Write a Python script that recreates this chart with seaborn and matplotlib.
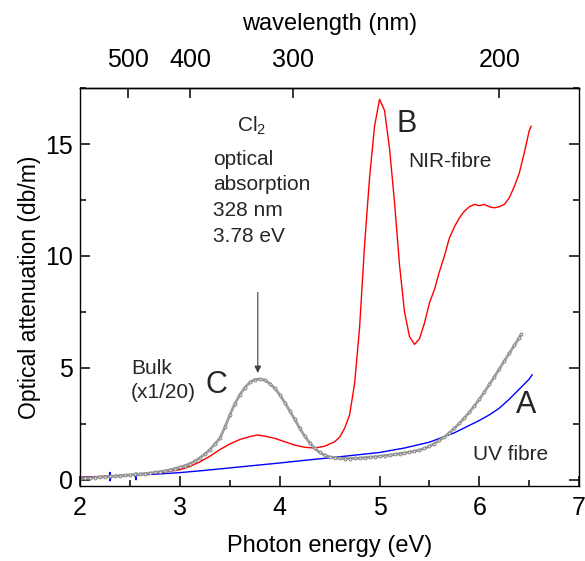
import matplotlib
matplotlib.use("Agg")
import matplotlib.pyplot as plt
from matplotlib.ticker import MultipleLocator, NullLocator
import seaborn as sns

# NIR-fibre (red) attenuation, db/m
nir_ev = [2.0, 2.2, 2.4, 2.6, 2.8, 3.0, 3.1, 3.2, 3.3, 3.4, 3.5, 3.6, 3.7, 3.78,
          3.85, 3.95, 4.05, 4.15, 4.25, 4.35, 4.45, 4.5, 4.55, 4.6, 4.65, 4.7,
          4.75, 4.8, 4.85, 4.9, 4.95, 5.0, 5.05, 5.1, 5.15, 5.2, 5.25, 5.3, 5.35,
          5.4, 5.45, 5.5, 5.55, 5.6, 5.65, 5.7, 5.75, 5.8, 5.85, 5.9, 5.95, 6.0,
          6.05, 6.1, 6.15, 6.2, 6.25, 6.3, 6.35, 6.4, 6.45, 6.5, 6.52]
nir_db = [0.12, 0.15, 0.2, 0.25, 0.32, 0.45, 0.6, 0.8, 1.05, 1.35, 1.6, 1.8, 1.93, 2.0,
          1.95, 1.85, 1.7, 1.55, 1.45, 1.42, 1.5, 1.6, 1.7, 1.9, 2.3, 2.9,
          4.3, 6.8, 10.5, 13.5, 15.8, 17.0, 16.5, 14.8, 12.4, 9.6, 7.5, 6.4, 6.05,
          6.3, 7.0, 7.9, 8.5, 9.3, 10.0, 10.8, 11.3, 11.7, 12.0, 12.2, 12.3, 12.25,
          12.3, 12.2, 12.15, 12.2, 12.3, 12.6, 13.1, 13.7, 14.6, 15.6, 15.8]

# UV fibre (blue)
uv_ev = [2.0, 2.29, 2.3, 2.3, 2.31, 2.5, 2.55, 2.56, 2.56, 2.57, 2.75, 3.0, 3.25,
         3.5, 3.77, 4.0, 4.25, 4.5, 4.75, 5.0, 5.25, 5.5, 5.75, 6.0, 6.1, 6.2,
         6.3, 6.4, 6.5, 6.53]
uv_db = [0.1, 0.15, 0.33, -0.05, 0.16, 0.2, 0.21, 0.0, 0.3, 0.22, 0.25, 0.32, 0.42,
         0.53, 0.65, 0.75, 0.87, 0.98, 1.1, 1.22, 1.42, 1.68, 2.1, 2.65, 2.9, 3.2,
         3.6, 4.05, 4.5, 4.7]

# Bulk sample (x1/20), open circles
bulk_ev = [2.0, 2.05, 2.1, 2.15, 2.2, 2.25, 2.3, 2.35, 2.4, 2.45, 2.5, 2.55, 2.6,
           2.65, 2.7, 2.75, 2.8, 2.85, 2.9, 2.95, 3.0, 3.05, 3.1, 3.15, 3.2, 3.25,
           3.3, 3.35, 3.4, 3.45, 3.5, 3.55, 3.6, 3.65, 3.7, 3.75, 3.8, 3.85, 3.9,
           3.95, 4.0, 4.05, 4.1, 4.15, 4.2, 4.25, 4.3, 4.35, 4.4, 4.45, 4.5, 4.55,
           4.6, 4.65, 4.7, 4.75, 4.8, 4.85, 4.9, 4.95, 5.0, 5.05, 5.1, 5.15, 5.2,
           5.25, 5.3, 5.35, 5.4, 5.45, 5.5, 5.55, 5.6, 5.65, 5.7, 5.75, 5.8, 5.85,
           5.9, 5.95, 6.0, 6.05, 6.1, 6.15, 6.2, 6.25, 6.3, 6.35, 6.4, 6.42]
bulk_db = [0.05, 0.07, 0.08, 0.1, 0.12, 0.13, 0.15, 0.16, 0.18, 0.2, 0.22, 0.24, 0.26,
           0.28, 0.3, 0.33, 0.36, 0.4, 0.44, 0.5, 0.56, 0.63, 0.72, 0.84, 0.98, 1.15,
           1.35, 1.6, 1.85, 2.35, 2.9, 3.4, 3.8, 4.12, 4.35, 4.48, 4.5, 4.45, 4.3,
           4.08, 3.8, 3.45, 3.08, 2.7, 2.3, 1.95, 1.65, 1.4, 1.22, 1.1, 1.02, 0.98,
           0.96, 0.95, 0.95, 0.96, 0.97, 0.99, 1.01, 1.03, 1.05, 1.08, 1.1, 1.13, 1.17,
           1.2, 1.24, 1.28, 1.33, 1.4, 1.5, 1.62, 1.76, 1.92, 2.1, 2.3, 2.52, 2.76,
           3.02, 3.3, 3.6, 3.92, 4.26, 4.6, 4.95, 5.3, 5.65, 6.0, 6.35, 6.5]

wl_ticks = [500, 400, 300, 200]

sns.set_theme(style="ticks")
plt.rcParams["font.family"] = ["Liberation Sans", "DejaVu Sans"]
plt.rcParams["mathtext.fontset"] = "custom"
plt.rcParams["mathtext.rm"] = "Liberation Sans"
plt.rcParams["mathtext.it"] = "Liberation Sans:italic"
plt.rcParams["axes.edgecolor"] = "black"
plt.rcParams["axes.linewidth"] = 1.0

fig = plt.figure(figsize=(5.85, 5.61), dpi=100)
ax = fig.add_axes([0.137, 0.134, 0.853, 0.709])

sns.lineplot(x=nir_ev, y=nir_db, color="#ff0000", lw=1.0, estimator=None, sort=False, ax=ax)
sns.lineplot(x=uv_ev, y=uv_db, color="#0000ff", lw=1.0, estimator=None, sort=False, ax=ax)
sns.lineplot(x=bulk_ev, y=bulk_db, color="#a0a0a0", lw=2.0, marker="o", markersize=2.2,
             markerfacecolor="#d8d8d8", markeredgecolor="#707070", markeredgewidth=0.5,
             estimator=None, sort=False, ax=ax)

ax.set_xlim(2, 7)
ax.set_ylim(-0.27, 17.5)
ax.xaxis.set_major_locator(MultipleLocator(1))
ax.xaxis.set_minor_locator(MultipleLocator(0.5))
ax.yaxis.set_major_locator(MultipleLocator(5))
ax.yaxis.set_minor_locator(MultipleLocator(2.5))
ax.tick_params(which="both", direction="in", bottom=True, left=True, right=True, top=False,
               color="black", labelcolor="black", labelsize=18)
ax.tick_params(axis="x", pad=7)
ax.tick_params(axis="y", pad=5)
ax.tick_params(which="major", length=7, width=1.1)
ax.tick_params(which="minor", length=4, width=1.1)
ax.set_xlabel("Photon energy (eV)", fontsize=17, labelpad=11, color="black")
ax.set_ylabel("Optical attenuation (db/m)", fontsize=16.5, labelpad=3, color="black")

# top axis: wavelength in nm
secax = ax.secondary_xaxis("top", functions=(lambda e: 1239.84 / e, lambda w: 1239.84 / w))
secax.set_xticks(wl_ticks)
secax.xaxis.set_minor_locator(NullLocator())
secax.tick_params(which="major", direction="in", length=7, width=1.1, color="black",
                  labelcolor="black", labelsize=18, pad=11.5)
secax.set_xlabel("wavelength (nm)", fontsize=17, labelpad=13, color="black")

# annotations
ax.text(3.57, 15.8, "Cl$_2$", fontsize=15, ha="left", va="center")
ax.text(3.33, 12.6, "optical\nabsorption\n328 nm\n3.78 eV", fontsize=15,
        ha="left", va="center", linespacing=1.45)
ax.annotate("", xy=(3.78, 4.65), xytext=(3.78, 8.5),
            arrowprops=dict(arrowstyle="-|>", color="#404040", lw=0.8, mutation_scale=10))
ax.text(5.17, 15.9, "B", fontsize=22, ha="left", va="center")
ax.text(5.29, 14.2, "NIR-fibre", fontsize=15, ha="left", va="center")
ax.text(2.51, 4.43, "Bulk\n(x1/20)", fontsize=15, ha="left", va="center", linespacing=1.35)
ax.text(3.26, 4.25, "C", fontsize=22, ha="left", va="center")
ax.text(6.37, 3.35, "A", fontsize=22, ha="left", va="center")
ax.text(5.94, 1.15, "UV fibre", fontsize=15, ha="left", va="center")

fig.savefig("out.png", dpi=100)
